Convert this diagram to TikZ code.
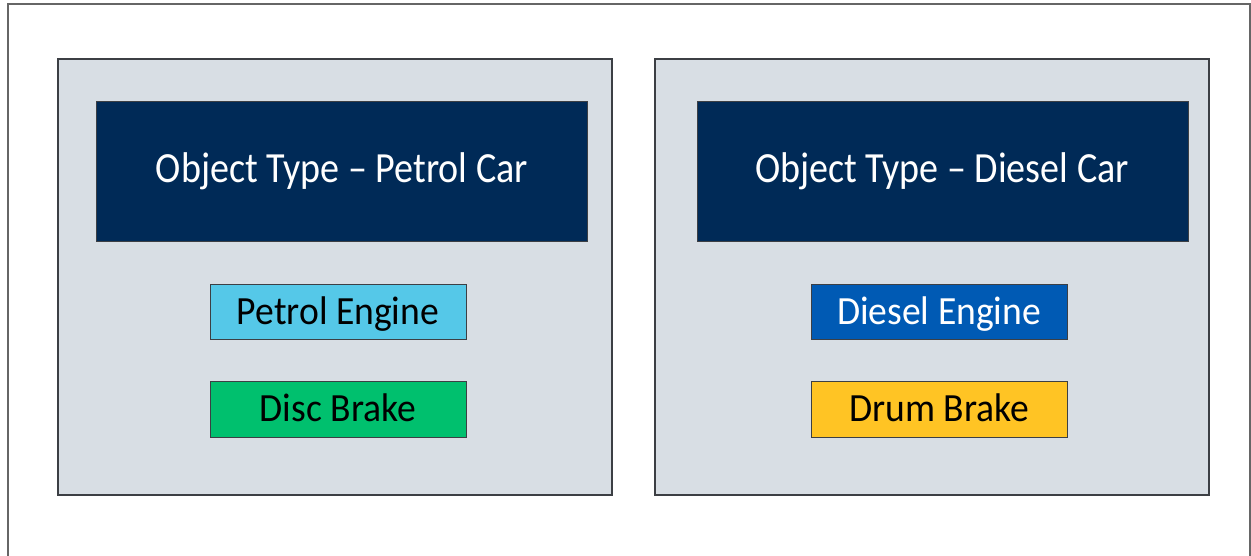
\documentclass[tikz,border=0pt]{standalone}
\usepackage{fontspec}
\setmainfont{Carlito}
\newfontfamily\titlefont[FakeStretch=0.885]{Carlito}
\newfontfamily\boxfont[FakeStretch=0.94]{Carlito}
\definecolor{navy}{HTML}{002A57}
\definecolor{panelfill}{HTML}{D8DEE4}
\definecolor{lightblue}{HTML}{55C8E8}
\definecolor{greenbox}{HTML}{00C06E}
\definecolor{bluebox}{HTML}{005AB4}
\definecolor{yellowbox}{HTML}{FFC424}
\definecolor{edge}{HTML}{3C3F44}
\begin{document}
\begin{tikzpicture}[x=1pt,y=-1pt,
  panel/.style={draw=edge,line width=1.2pt,fill=panelfill},
  titlebox/.style={draw=edge,line width=0.8pt,fill=navy},
  titletext/.style={anchor=base,inner sep=0pt,text=white,font=\titlefont\fontsize{43}{48}\selectfont},
  smallbox/.style={draw=edge,line width=0.8pt},
  smalltext/.style={anchor=base,inner sep=0pt,font=\boxfont\fontsize{40}{46}\selectfont}]
\useasboundingbox (0,0) rectangle (1251,556);
% outer frame (bottom open)
\draw[gray!80!black,line width=1.5pt] (8,560) -- (8,4) -- (1250,4) -- (1250,560);
% panels
\draw[panel] (58,59) rectangle (612,495);
\draw[panel] (655,59) rectangle (1209,495);
% title boxes
\draw[titlebox] (96,101) rectangle (587,241);
\node[titletext] (t1) at (342,183) {Object Type – Petrol Car};
\draw[titlebox] (697,101) rectangle (1188,241);
\node[titletext] (t2) at (942,183) {Object Type – Diesel Car};
% small boxes
\draw[smallbox,fill=lightblue] (210,284) rectangle (466,339);
\node[smalltext,text=black] (pe) at (338,324) {Petrol Engine};
\draw[smallbox,fill=greenbox] (210,381) rectangle (466,437);
\node[smalltext,text=black] (db) at (338,421) {Disc Brake};
\draw[smallbox,fill=bluebox] (811,284) rectangle (1067,339);
\node[smalltext,text=white] (de) at (939,324) {Diesel Engine};
\draw[smallbox,fill=yellowbox] (811,381) rectangle (1067,437);
\node[smalltext,text=black] (dr) at (939,421) {Drum Brake};
\end{tikzpicture}
\end{document}
